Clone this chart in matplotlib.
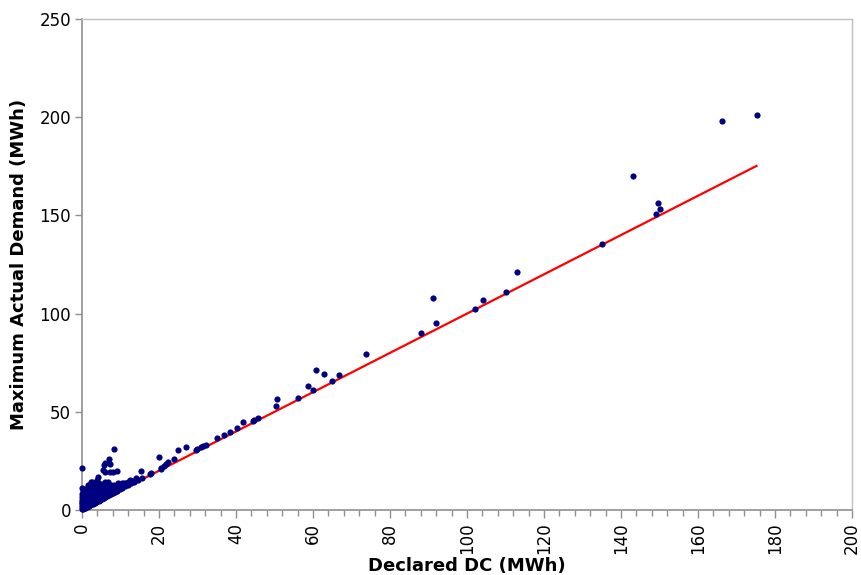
import matplotlib
matplotlib.use("Agg")
import matplotlib.pyplot as plt
from matplotlib.ticker import MultipleLocator

# Points lying close to the 1:1 line near the origin
line_x = [0.1, 0.3, 0.5, 0.7, 0.9, 1.1, 1.3, 1.6, 1.9, 2.2, 2.5, 2.8, 3.1, 3.4, 3.7,
          4.0, 4.4, 4.8, 5.2, 5.6, 6.0, 6.5, 7.0, 7.5, 8.0, 8.6, 9.2, 9.8, 10.5, 11.2,
          12.0, 12.8, 13.6, 14.5]
line_y = [0.3, 0.5, 0.9, 1.0, 1.2, 1.4, 1.6, 1.9, 2.2, 2.5, 2.9, 3.2, 3.5, 3.8, 4.1,
          4.4, 4.8, 5.2, 5.7, 6.1, 6.5, 7.0, 7.5, 8.1, 8.6, 9.2, 9.8, 10.5, 11.2, 12.0,
          12.8, 13.6, 14.4, 15.4]

# Scattered small units above the line
blob_x = [0, 0, 0, 0, 0, 0, 0.2, 0.3, 0, 0.1, 0.4, 0.5, 0.6, 0.8, 0.8, 1.0, 1.0, 1.2,
          1.3, 1.5, 1.6, 1.7, 1.9, 2.0, 2.2, 2.3, 2.5, 2.6, 2.8, 3.0, 3.2, 3.3, 3.4, 3.6,
          3.8, 3.9, 4.1, 4.2, 4.4, 4.6, 4.8, 5.0, 5.2, 5.4, 5.5, 5.8, 5.9, 6.0, 6.1, 6.2,
          6.4, 6.5, 6.8, 7.0, 7.2, 7.3, 7.5, 8.0, 8.1, 8.4, 8.6, 9.0, 9.4, 10.0, 10.5,
          11.0, 12.0, 13.0, 14.0, 0, 3.4, 2.5, 1.0, 2.0, 3.0, 4.0, 5.0, 6.0, 7.0, 1.5,
          2.5, 3.5, 4.5, 5.5, 6.5, 7.5, 8.5, 9.5, 11.5, 12.5]
blob_y = [1.5, 2.5, 3.5, 5.0, 6.5, 8.0, 9.3, 10.2, 11.0, 4.2, 3.0, 6.0, 7.5, 2.5, 5.0,
          3.8, 7.0, 9.0, 5.5, 2.8, 12.8, 7.6, 4.6, 10.0, 6.0, 14.1, 8.2, 3.8, 11.5, 5.2,
          7.0, 9.5, 12.0, 4.8, 15.3, 8.5, 6.2, 17.0, 10.8, 13.0, 7.5, 5.9, 9.8, 12.5, 20.4,
          23.0, 19.6, 14.4, 24.1, 8.2, 13.9, 11.0, 14.5, 26.0, 23.5, 19.6, 10.0, 12.0, 19.6,
          31.0, 10.5, 19.7, 13.6, 12.5, 13.5, 13.2, 14.5, 15.0, 16.5, 21.6, 11.9, 14.5,
          2.0, 3.5, 4.5, 6.0, 7.5, 8.5, 9.5, 6.5, 8.0, 9.0, 10.0, 11.0, 12.0, 12.5, 11.5,
          12.0, 13.5, 14.5]

# Dense fill of the small-unit wedge
fill_x = [0.3, 0.3, 0.3, 0.3, 1.0, 1.0, 1.5, 1.5, 1.5, 1.5, 1.5, 2.0, 2.0, 2.0, 2.0,
          2.0, 2.0, 2.7, 2.7, 2.7, 2.7, 2.7, 2.7, 3.5, 3.5, 3.5, 3.5, 3.5, 3.5, 4.2, 4.2,
          4.2, 4.2, 4.2, 4.2, 5.0, 5.0, 5.0, 5.0, 5.0, 5.8, 5.8, 5.8, 5.8, 6.6, 6.6, 6.6,
          6.6, 7.4, 7.4, 7.4, 8.2, 8.2, 8.2, 9.0, 9.0, 10.0, 10.0, 11.0, 11.0, 12.5, 12.5,
          13.5]
fill_y = [2.0, 4.0, 6.0, 8.0, 9.0, 10.5, 4.0, 6.0, 8.0, 10.0, 11.5, 3.0, 5.0, 7.0, 9.0,
          11.0, 12.5, 4.0, 6.0, 8.0, 10.0, 12.0, 13.0, 5.0, 6.5, 8.0, 10.0, 11.0, 13.5,
          5.5, 7.0, 8.5, 10.0, 12.0, 13.5, 6.5, 8.0, 9.5, 11.0, 13.0, 7.0, 9.0, 10.5,
          12.0, 8.0, 9.5, 11.0, 12.5, 9.0, 10.5, 12.0, 9.5, 11.0, 12.5, 10.5, 12.0, 11.5,
          13.0, 12.5, 14.0, 14.0, 15.2, 15.0]

# Larger units
big_x = [15.3, 15.7, 17.6, 18.0, 19.9, 20.4, 20.6, 21.2, 21.8, 22.4, 23.9, 24.9, 27.0,
         29.6, 29.8, 30.8, 31.3, 32.3, 35.0, 36.9, 38.4, 40.3, 41.8, 44.3, 44.8, 45.8,
         50.5, 50.6, 56.0, 58.7, 59.9, 60.9, 62.8, 64.9, 66.8, 73.8, 88.1, 91.1, 92.0,
         102.2, 104.1, 110.0, 113.1, 135.1, 143.0, 149.2, 149.5, 150.1, 166.2, 175.2]
big_y = [19.9, 16.5, 18.2, 19.0, 27.0, 20.8, 21.3, 22.4, 23.3, 24.3, 25.9, 30.3, 32.1,
         30.4, 31.0, 32.0, 32.8, 33.0, 36.7, 38.3, 39.8, 42.0, 44.7, 45.2, 45.6, 46.9,
         52.9, 56.5, 57.1, 63.3, 60.9, 71.3, 69.4, 65.5, 68.5, 79.2, 90.0, 108.1, 95.2,
         102.5, 106.9, 111.2, 121.3, 135.3, 170.1, 150.7, 156.5, 153.1, 197.9, 201.3]

trend_slope = 1.0

x_all = line_x + blob_x + fill_x + big_x
y_all = line_y + blob_y + fill_y + big_y

fig = plt.figure(figsize=(8.61, 5.75), dpi=100)
ax = fig.add_axes([82 / 861, 1 - 510 / 575, (852 - 82) / 861, (510 - 19) / 575])

xmax = max(x_all)
ax.plot([0, xmax], [0, trend_slope * xmax], color="#ff0000", lw=1.6, zorder=3)
ax.scatter(x_all, y_all, s=20, color="#000080", linewidths=0, zorder=4, clip_on=False)

ax.set_xlim(0, 200)
ax.set_ylim(0, 250)
ax.xaxis.set_major_locator(MultipleLocator(20))
ax.xaxis.set_minor_locator(MultipleLocator(4))
ax.yaxis.set_major_locator(MultipleLocator(50))

for s in ["top", "right"]:
    ax.spines[s].set_color("#c0c0c0")
    ax.spines[s].set_linewidth(1.0)
for s in ["left", "bottom"]:
    ax.spines[s].set_color("#909090")
    ax.spines[s].set_linewidth(1.2)

ax.tick_params(axis="x", which="major", length=6, width=1, color="#909090",
               labelsize=12, labelrotation=90, pad=3)
ax.tick_params(axis="x", which="minor", length=4, width=1, color="#909090")
ax.tick_params(axis="y", which="major", length=5, width=1, color="#909090",
               labelsize=12, pad=3)

ax.set_xlabel("Declared DC (MWh)", fontsize=13, fontweight="bold", labelpad=2)
ax.set_ylabel("Maximum Actual Demand (MWh)", fontsize=13, fontweight="bold", labelpad=8)

fig.savefig("out.png", dpi=100)
